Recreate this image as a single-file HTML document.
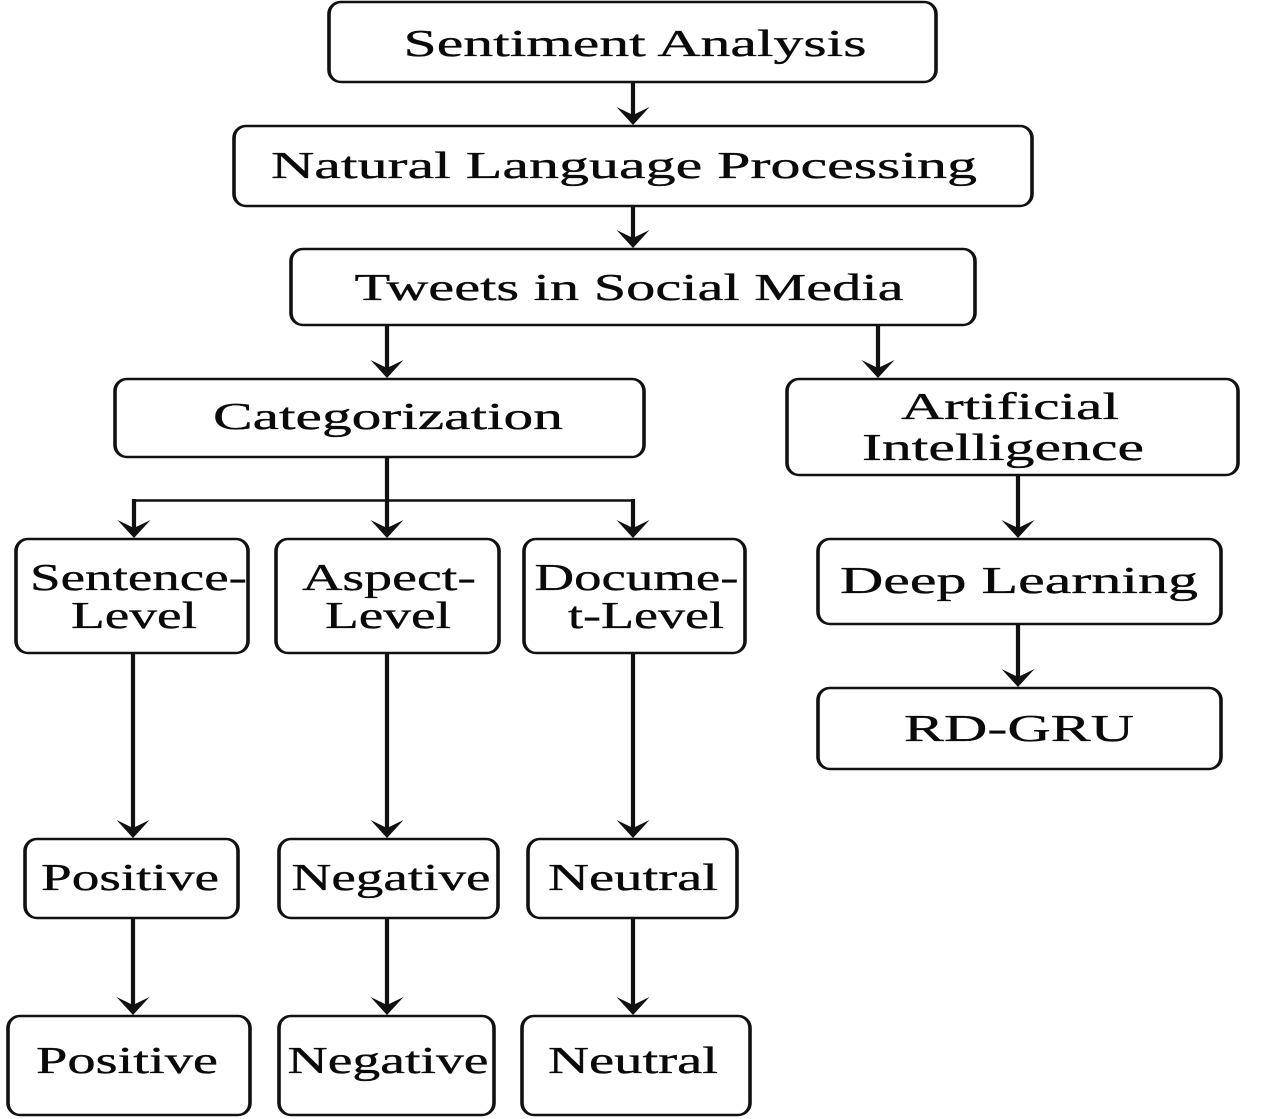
<!DOCTYPE html>
<html><head><meta charset="utf-8"><style>
html,body{margin:0;padding:0;background:#fff}
svg{display:block;filter:blur(0.35px)}
text{font-family:"Liberation Serif",serif;fill:#0a0a0a;stroke:#0a0a0a;stroke-width:0.35;font-size:38px;text-anchor:middle}
rect{fill:#fff;stroke:#111;stroke-width:2.4}
path.l{fill:none;stroke:#111;stroke-width:4.2}
path.h{fill:none;stroke:#111;stroke-width:2.4}
path.a{fill:#111;stroke:none}
</style></head><body>
<svg width="1280" height="1119" viewBox="0 0 1280 1119" xmlns="http://www.w3.org/2000/svg">
<g transform="scale(1.5,1)">
<rect x="219.33" y="2" width="404.67" height="80" rx="8" ry="12"/>
<rect x="156" y="126" width="532" height="80" rx="8" ry="12"/>
<rect x="194" y="249" width="456" height="76" rx="8" ry="12"/>
<rect x="76.67" y="379" width="352.67" height="78" rx="8" ry="12"/>
<rect x="524.67" y="379" width="300.67" height="96" rx="8" ry="12"/>
<rect x="10.67" y="539" width="154.67" height="114" rx="8" ry="12"/>
<rect x="184" y="539" width="148.67" height="114" rx="8" ry="12"/>
<rect x="349.33" y="539" width="147.33" height="114" rx="8" ry="12"/>
<rect x="545.33" y="539" width="268.67" height="85" rx="8" ry="12"/>
<rect x="545.33" y="688" width="268.67" height="81" rx="8" ry="12"/>
<rect x="16.67" y="839" width="142" height="79" rx="8" ry="12"/>
<rect x="186" y="839" width="146" height="79" rx="8" ry="12"/>
<rect x="352" y="839" width="139.33" height="79" rx="8" ry="12"/>
<rect x="5.33" y="1016" width="161.33" height="99" rx="8" ry="12"/>
<rect x="186" y="1016" width="143.33" height="99" rx="8" ry="12"/>
<rect x="348" y="1016" width="152" height="99" rx="8" ry="12"/>
</g>

<path class="l" d="M633 82V116M633 206V239M387 325V369M878 325V369M387 457V529M134 499V529M633 499V529M1018 475V529M1018 624V678M133 653V829M387 653V829M633 653V829M133 918V1006M387 918V1006M633 918V1006"/>
<path class="h" d="M132 500.5H635"/>
<path class="a" d="M616.5 107L633 125L649.5 107L633 115ZM616.5 230L633 248L649.5 230L633 238ZM370.5 360L387 378L403.5 360L387 368ZM861.5 360L878 378L894.5 360L878 368ZM117.5 520L134 538L150.5 520L134 528ZM370.5 520L387 538L403.5 520L387 528ZM616.5 520L633 538L649.5 520L633 528ZM1001.5 520L1018 538L1034.5 520L1018 528ZM1001.5 669L1018 687L1034.5 669L1018 677ZM116.5 820L133 838L149.5 820L133 828ZM370.5 820L387 838L403.5 820L387 828ZM616.5 820L633 838L649.5 820L633 828ZM116.5 997L133 1015L149.5 997L133 1005ZM370.5 997L387 1015L403.5 997L387 1005ZM616.5 997L633 1015L649.5 997L633 1005Z"/>

<text x="635" y="56" textLength="463" lengthAdjust="spacingAndGlyphs">Sentiment Analysis</text>
<text x="624" y="178" textLength="706" lengthAdjust="spacingAndGlyphs">Natural Language Processing</text>
<text x="629" y="300" textLength="549" lengthAdjust="spacingAndGlyphs">Tweets in Social Media</text>
<text x="388" y="429" textLength="350" lengthAdjust="spacingAndGlyphs">Categorization</text>
<text x="1010" y="419" textLength="218" lengthAdjust="spacingAndGlyphs">Artificial</text>
<text x="1003" y="460" textLength="282" lengthAdjust="spacingAndGlyphs">Intelligence</text>
<text x="138.5" y="590" textLength="217" lengthAdjust="spacingAndGlyphs">Sentence-</text>
<text x="134" y="628" textLength="126" lengthAdjust="spacingAndGlyphs">Level</text>
<text x="389" y="590" textLength="174" lengthAdjust="spacingAndGlyphs">Aspect-</text>
<text x="388" y="628" textLength="126" lengthAdjust="spacingAndGlyphs">Level</text>
<text x="636.5" y="590" textLength="204" lengthAdjust="spacingAndGlyphs">Docume-</text>
<text x="646" y="628" textLength="156" lengthAdjust="spacingAndGlyphs">t-Level</text>
<text x="1019" y="593" textLength="358" lengthAdjust="spacingAndGlyphs">Deep Learning</text>
<text x="1019" y="741" textLength="230" lengthAdjust="spacingAndGlyphs">RD-GRU</text>
<text x="130" y="890" textLength="178" lengthAdjust="spacingAndGlyphs">Positive</text>
<text x="391" y="890" textLength="199" lengthAdjust="spacingAndGlyphs">Negative</text>
<text x="633" y="890" textLength="170" lengthAdjust="spacingAndGlyphs">Neutral</text>
<text x="127" y="1073" textLength="182" lengthAdjust="spacingAndGlyphs">Positive</text>
<text x="388" y="1073" textLength="201" lengthAdjust="spacingAndGlyphs">Negative</text>
<text x="633" y="1073" textLength="170" lengthAdjust="spacingAndGlyphs">Neutral</text>
</svg>
</body></html>
